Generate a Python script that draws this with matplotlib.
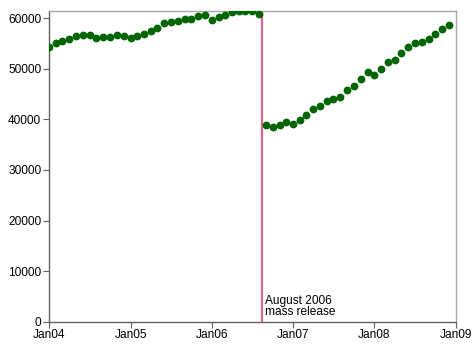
import numpy as np
import pandas as pd
import matplotlib
matplotlib.use("Agg")
import matplotlib.pyplot as plt
import matplotlib.dates as mdates

plt.rcParams['font.family'] = ['Liberation Sans', 'DejaVu Sans']

# monthly counts, Jan 2004 - Dec 2008
before = [54290, 55010, 55400, 55800, 56390, 56720, 56590, 56130, 56200, 56200,
          56590, 56460, 56130, 56390, 56920, 57510, 57970, 59090, 59150, 59480,
          59750, 59750, 60470, 60540, 59550, 60140, 60600, 61260, 61460, 61460,
          61390, 60800]
after = [38890, 38430, 38890, 39410, 39020, 39940, 40930, 42050, 42640, 43630,
         44090, 44480, 45730, 46650, 47900, 49350, 48690, 50010, 51260, 51780,
         53040, 54220, 55010, 55340, 55930, 56850, 57900, 58560]
values = before + after
months = pd.date_range('2004-01-01', periods=len(values), freq='MS')
release = pd.Timestamp('2006-08-16')
yticks = [0, 10000, 20000, 30000, 40000, 50000, 60000]
xticks = pd.date_range('2004-01-01', '2009-01-01', freq='YS')

fig = plt.figure(figsize=(4.74, 3.45), dpi=100)
ax = fig.add_axes([0.1034, 0.0675, 0.8586, 0.9005])

ax.axvline(release, color='#d9678a', lw=1.6, zorder=1)
ax.plot(months, values, 'o', color='#006400', ms=4.6, zorder=3)

ax.text(release + pd.Timedelta(days=12), 700, 'August 2006\nmass release',
        ha='left', va='bottom', fontsize=8.6, linespacing=0.95)

ax.set_xlim(xticks[0], xticks[-1])
ax.set_ylim(0, 61400)
ax.set_yticks(yticks)
ax.set_xticks(xticks)
ax.xaxis.set_major_formatter(mdates.DateFormatter('%b%y'))

for s in ['left', 'bottom']:
    ax.spines[s].set_color('#606060')
for s in ['top', 'right']:
    ax.spines[s].set_color('#a8a8a8')
for s in ax.spines.values():
    s.set_linewidth(1.0)
ax.tick_params(length=4, width=0.8, color='#606060', labelsize=8.6, pad=1.5)

fig.savefig('out.png', dpi=100)
